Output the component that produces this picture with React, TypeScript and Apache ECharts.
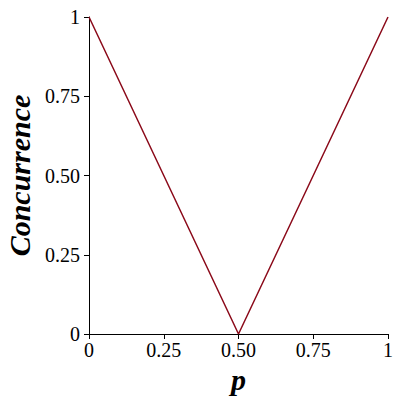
import React, { useEffect, useRef } from "react";
import * as echarts from "echarts";

const pValues = [0, 0.5, 1];
const concurrence = [1, 0, 1];
const xTickLabels = ["0", "0.25", "0.50", "0.75", "1"];
const yTickLabels = ["0", "0.25", "0.50", "0.75", "1"];

const fmt = (labels: string[]) => (v: number) => {
  const i = Math.round(v / 0.25);
  return labels[i] ?? String(v);
};

export default function App() {
  const ref = useRef<HTMLDivElement>(null);
  useEffect(() => {
    const chart = echarts.init(ref.current!, null, { renderer: "svg" });
    const font = "Liberation Serif";
    chart.setOption({
      animation: false,
      backgroundColor: "#ffffff",
      grid: { left: 89, right: 12, top: 17, bottom: 66, containLabel: false, outerBoundsMode: "none" },
      xAxis: {
        type: "value",
        min: 0,
        max: 1,
        interval: 0.25,
        name: "p",
        nameLocation: "middle",
        nameGap: 30,
        nameTextStyle: { fontFamily: font, fontStyle: "italic", fontWeight: "bold", fontSize: 30, color: "#000" },
        axisLine: { lineStyle: { color: "#000", width: 1 } },
        axisTick: { show: true, inside: false, length: 5, lineStyle: { color: "#000" } },
        axisLabel: { fontFamily: font, fontSize: 20, color: "#000", margin: 6, formatter: fmt(xTickLabels) },
        splitLine: { show: false },
      },
      yAxis: {
        type: "value",
        min: 0,
        max: 1,
        interval: 0.25,
        name: "Concurrence",
        nameLocation: "middle",
        nameGap: 54,
        nameRotate: 90,
        nameTextStyle: { fontFamily: font, fontStyle: "italic", fontWeight: "bold", fontSize: 30, color: "#000" },
        axisLine: { show: true, lineStyle: { color: "#000", width: 1 } },
        axisTick: { show: true, inside: false, length: 5, lineStyle: { color: "#000" } },
        axisLabel: { fontFamily: font, fontSize: 20, color: "#000", margin: 9, formatter: fmt(yTickLabels) },
        splitLine: { show: false },
      },
      series: [
        {
          type: "line",
          data: pValues.map((p, i) => [p, concurrence[i]]),
          showSymbol: false,
          lineStyle: { color: "#8b0a1a", width: 1.5 },
        },
      ],
    });
    return () => chart.dispose();
  }, []);
  return <div ref={ref} style={{ position: "absolute", left: 0, top: 0, width: 400, height: 400 }} />;
}
